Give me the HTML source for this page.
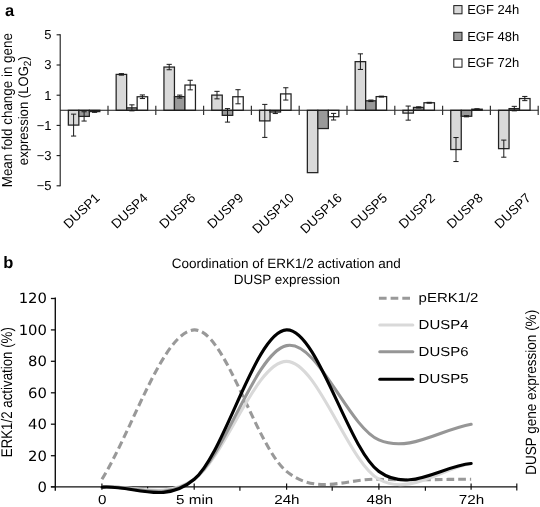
<!DOCTYPE html>
<html lang="en">
<head>
<meta charset="utf-8">
<title>DUSP expression figure</title>
<style>
html,body{margin:0;padding:0;background:#fff;}
body{width:540px;height:507px;overflow:hidden;}
svg{display:block;}
</style>
</head>
<body>
<svg width="540" height="507" viewBox="0 0 540 507">
<rect width="540" height="507" fill="#ffffff"/>
<g opacity="0.999" text-rendering="geometricPrecision">
<text x="5.0" y="15.9" text-rendering="geometricPrecision" font-family="'Liberation Sans', Arial, Helvetica, sans-serif" font-size="16.5" font-weight="bold" fill="#000">a</text>
<text transform="translate(11.6,110.2) rotate(-90) scale(1,1.08)" text-anchor="middle" font-family="'Liberation Sans', Arial, Helvetica, sans-serif" font-size="13.4" fill="#000">Mean fold change in gene</text>
<text transform="translate(28.0,110.7) rotate(-90) scale(1,1.05)" text-anchor="middle" font-family="'Liberation Sans', Arial, Helvetica, sans-serif" font-size="13.1" fill="#000">expression (LOG<tspan font-size="10" dy="2.6">2</tspan><tspan dy="-2.6">)</tspan></text>
<path d="M60.2 34.3 V186.3" stroke="#1a1a1a" stroke-width="1.1" fill="none"/>
<path d="M56.6 34.8 H60.2" stroke="#1a1a1a" stroke-width="1.1"/>
<text x="51.6" y="39.2" text-anchor="end" font-family="'Liberation Sans', Arial, Helvetica, sans-serif" font-size="13" fill="#000">5</text>
<path d="M56.6 65.0 H60.2" stroke="#1a1a1a" stroke-width="1.1"/>
<text x="51.6" y="69.4" text-anchor="end" font-family="'Liberation Sans', Arial, Helvetica, sans-serif" font-size="13" fill="#000">3</text>
<path d="M56.6 95.2 H60.2" stroke="#1a1a1a" stroke-width="1.1"/>
<text x="51.6" y="99.6" text-anchor="end" font-family="'Liberation Sans', Arial, Helvetica, sans-serif" font-size="13" fill="#000">1</text>
<path d="M56.6 125.4 H60.2" stroke="#1a1a1a" stroke-width="1.1"/>
<text x="51.6" y="129.8" text-anchor="end" font-family="'Liberation Sans', Arial, Helvetica, sans-serif" font-size="13" fill="#000">−1</text>
<path d="M56.6 155.6 H60.2" stroke="#1a1a1a" stroke-width="1.1"/>
<text x="51.6" y="160.0" text-anchor="end" font-family="'Liberation Sans', Arial, Helvetica, sans-serif" font-size="13" fill="#000">−3</text>
<path d="M56.6 185.8 H60.2" stroke="#1a1a1a" stroke-width="1.1"/>
<text x="51.6" y="190.2" text-anchor="end" font-family="'Liberation Sans', Arial, Helvetica, sans-serif" font-size="13" fill="#000">−5</text>
<rect x="68.35" y="110.30" width="10.5" height="14.80" fill="#d9d9d9" stroke="#222" stroke-width="1.25"/>
<rect x="78.85" y="110.30" width="10.5" height="6.10" fill="#999999" stroke="#222" stroke-width="1.25"/>
<rect x="89.35" y="110.30" width="10.5" height="1.30" fill="#ffffff" stroke="#222" stroke-width="1.25"/>
<path d="M73.60 114.15 V136.05 M71.00 114.15 H76.20 M71.00 136.05 H76.20" stroke="#1a1a1a" stroke-width="1" fill="none"/>
<path d="M84.10 111.75 V121.05 M81.50 111.75 H86.70 M81.50 121.05 H86.70" stroke="#1a1a1a" stroke-width="1" fill="none"/>
<path d="M94.60 110.85 V112.35 M92.00 110.85 H97.20 M92.00 112.35 H97.20" stroke="#1a1a1a" stroke-width="1" fill="none"/>
<rect x="116.15" y="74.40" width="10.5" height="35.90" fill="#d9d9d9" stroke="#222" stroke-width="1.25"/>
<rect x="126.65" y="107.85" width="10.5" height="2.45" fill="#999999" stroke="#222" stroke-width="1.25"/>
<rect x="137.15" y="96.75" width="10.5" height="13.55" fill="#ffffff" stroke="#222" stroke-width="1.25"/>
<path d="M121.40 73.65 V75.15 M118.80 73.65 H124.00 M118.80 75.15 H124.00" stroke="#1a1a1a" stroke-width="1" fill="none"/>
<path d="M131.90 104.85 V110.85 M129.30 104.85 H134.50 M129.30 110.85 H134.50" stroke="#1a1a1a" stroke-width="1" fill="none"/>
<path d="M142.40 94.95 V98.55 M139.80 94.95 H145.00 M139.80 98.55 H145.00" stroke="#1a1a1a" stroke-width="1" fill="none"/>
<rect x="163.95" y="67.05" width="10.5" height="43.25" fill="#d9d9d9" stroke="#222" stroke-width="1.25"/>
<rect x="174.45" y="96.60" width="10.5" height="13.70" fill="#999999" stroke="#222" stroke-width="1.25"/>
<rect x="184.95" y="85.05" width="10.5" height="25.25" fill="#ffffff" stroke="#222" stroke-width="1.25"/>
<path d="M169.20 64.35 V69.75 M166.60 64.35 H171.80 M166.60 69.75 H171.80" stroke="#1a1a1a" stroke-width="1" fill="none"/>
<path d="M179.70 95.10 V98.10 M177.10 95.10 H182.30 M177.10 98.10 H182.30" stroke="#1a1a1a" stroke-width="1" fill="none"/>
<path d="M190.20 80.25 V89.85 M187.60 80.25 H192.80 M187.60 89.85 H192.80" stroke="#1a1a1a" stroke-width="1" fill="none"/>
<rect x="211.75" y="95.10" width="10.5" height="15.20" fill="#d9d9d9" stroke="#222" stroke-width="1.25"/>
<rect x="222.25" y="110.30" width="10.5" height="5.05" fill="#999999" stroke="#222" stroke-width="1.25"/>
<rect x="232.75" y="96.75" width="10.5" height="13.55" fill="#ffffff" stroke="#222" stroke-width="1.25"/>
<path d="M217.00 91.35 V98.85 M214.40 91.35 H219.60 M214.40 98.85 H219.60" stroke="#1a1a1a" stroke-width="1" fill="none"/>
<path d="M227.50 108.60 V122.10 M224.90 108.60 H230.10 M224.90 122.10 H230.10" stroke="#1a1a1a" stroke-width="1" fill="none"/>
<path d="M238.00 89.70 V103.80 M235.40 89.70 H240.60 M235.40 103.80 H240.60" stroke="#1a1a1a" stroke-width="1" fill="none"/>
<rect x="259.55" y="110.30" width="10.5" height="10.60" fill="#d9d9d9" stroke="#222" stroke-width="1.25"/>
<rect x="270.05" y="110.30" width="10.5" height="1.75" fill="#999999" stroke="#222" stroke-width="1.25"/>
<rect x="280.55" y="93.90" width="10.5" height="16.40" fill="#ffffff" stroke="#222" stroke-width="1.25"/>
<path d="M264.80 104.40 V137.40 M262.20 104.40 H267.40 M262.20 137.40 H267.40" stroke="#1a1a1a" stroke-width="1" fill="none"/>
<path d="M275.30 110.55 V113.55 M272.70 110.55 H277.90 M272.70 113.55 H277.90" stroke="#1a1a1a" stroke-width="1" fill="none"/>
<path d="M285.80 87.75 V100.05 M283.20 87.75 H288.40 M283.20 100.05 H288.40" stroke="#1a1a1a" stroke-width="1" fill="none"/>
<rect x="307.35" y="110.30" width="10.5" height="62.35" fill="#d9d9d9" stroke="#222" stroke-width="1.25"/>
<rect x="317.85" y="110.30" width="10.5" height="18.25" fill="#999999" stroke="#222" stroke-width="1.25"/>
<rect x="328.35" y="110.30" width="10.5" height="6.40" fill="#ffffff" stroke="#222" stroke-width="1.25"/>
<path d="M333.60 113.40 V120.00 M331.00 113.40 H336.20 M331.00 120.00 H336.20" stroke="#1a1a1a" stroke-width="1" fill="none"/>
<rect x="355.15" y="61.65" width="10.5" height="48.65" fill="#d9d9d9" stroke="#222" stroke-width="1.25"/>
<rect x="365.65" y="100.80" width="10.5" height="9.50" fill="#999999" stroke="#222" stroke-width="1.25"/>
<rect x="376.15" y="96.60" width="10.5" height="13.70" fill="#ffffff" stroke="#222" stroke-width="1.25"/>
<path d="M360.40 53.85 V69.45 M357.80 53.85 H363.00 M357.80 69.45 H363.00" stroke="#1a1a1a" stroke-width="1" fill="none"/>
<path d="M370.90 100.05 V101.55 M368.30 100.05 H373.50 M368.30 101.55 H373.50" stroke="#1a1a1a" stroke-width="1" fill="none"/>
<path d="M381.40 96.15 V97.05 M378.80 96.15 H384.00 M378.80 97.05 H384.00" stroke="#1a1a1a" stroke-width="1" fill="none"/>
<rect x="402.95" y="110.30" width="10.5" height="2.80" fill="#d9d9d9" stroke="#222" stroke-width="1.25"/>
<rect x="413.45" y="107.40" width="10.5" height="2.90" fill="#999999" stroke="#222" stroke-width="1.25"/>
<rect x="423.95" y="102.75" width="10.5" height="7.55" fill="#ffffff" stroke="#222" stroke-width="1.25"/>
<path d="M408.20 106.05 V120.15 M405.60 106.05 H410.80 M405.60 120.15 H410.80" stroke="#1a1a1a" stroke-width="1" fill="none"/>
<path d="M418.70 106.80 V108.00 M416.10 106.80 H421.30 M416.10 108.00 H421.30" stroke="#1a1a1a" stroke-width="1" fill="none"/>
<path d="M429.20 102.30 V103.20 M426.60 102.30 H431.80 M426.60 103.20 H431.80" stroke="#1a1a1a" stroke-width="1" fill="none"/>
<rect x="450.75" y="110.30" width="10.5" height="39.25" fill="#d9d9d9" stroke="#222" stroke-width="1.25"/>
<rect x="461.25" y="110.30" width="10.5" height="5.95" fill="#999999" stroke="#222" stroke-width="1.25"/>
<rect x="471.75" y="109.20" width="10.5" height="1.10" fill="#ffffff" stroke="#222" stroke-width="1.25"/>
<path d="M456.00 137.55 V161.55 M453.40 137.55 H458.60 M453.40 161.55 H458.60" stroke="#1a1a1a" stroke-width="1" fill="none"/>
<path d="M466.50 115.65 V116.85 M463.90 115.65 H469.10 M463.90 116.85 H469.10" stroke="#1a1a1a" stroke-width="1" fill="none"/>
<path d="M477.00 108.75 V109.65 M474.40 108.75 H479.60 M474.40 109.65 H479.60" stroke="#1a1a1a" stroke-width="1" fill="none"/>
<rect x="498.55" y="110.30" width="10.5" height="38.35" fill="#d9d9d9" stroke="#222" stroke-width="1.25"/>
<rect x="509.05" y="108.60" width="10.5" height="1.70" fill="#999999" stroke="#222" stroke-width="1.25"/>
<rect x="519.55" y="98.55" width="10.5" height="11.75" fill="#ffffff" stroke="#222" stroke-width="1.25"/>
<path d="M503.80 140.10 V157.20 M501.20 140.10 H506.40 M501.20 157.20 H506.40" stroke="#1a1a1a" stroke-width="1" fill="none"/>
<path d="M514.30 106.35 V110.85 M511.70 106.35 H516.90 M511.70 110.85 H516.90" stroke="#1a1a1a" stroke-width="1" fill="none"/>
<path d="M524.80 96.45 V100.65 M522.20 96.45 H527.40 M522.20 100.65 H527.40" stroke="#1a1a1a" stroke-width="1" fill="none"/>
<path d="M60.2 110.3 H538.4" stroke="#1a1a1a" stroke-width="1.1"/>
<path d="M108.00 105.7 V114.89999999999999" stroke="#333" stroke-width="1.2"/>
<path d="M155.80 105.7 V114.89999999999999" stroke="#333" stroke-width="1.2"/>
<path d="M203.60 105.7 V114.89999999999999" stroke="#333" stroke-width="1.2"/>
<path d="M251.40 105.7 V114.89999999999999" stroke="#333" stroke-width="1.2"/>
<path d="M299.20 105.7 V114.89999999999999" stroke="#333" stroke-width="1.2"/>
<path d="M347.00 105.7 V114.89999999999999" stroke="#333" stroke-width="1.2"/>
<path d="M394.80 105.7 V114.89999999999999" stroke="#333" stroke-width="1.2"/>
<path d="M442.60 105.7 V114.89999999999999" stroke="#333" stroke-width="1.2"/>
<path d="M490.40 105.7 V114.89999999999999" stroke="#333" stroke-width="1.2"/>
<path d="M538.20 105.7 V114.89999999999999" stroke="#333" stroke-width="1.2"/>
<text transform="translate(100.60,198.9) rotate(-43.5)" text-anchor="end" font-family="'Liberation Sans', Arial, Helvetica, sans-serif" font-size="13.2" fill="#000">DUSP1</text>
<text transform="translate(148.50,198.9) rotate(-43.5)" text-anchor="end" font-family="'Liberation Sans', Arial, Helvetica, sans-serif" font-size="13.2" fill="#000">DUSP4</text>
<text transform="translate(196.40,198.9) rotate(-43.5)" text-anchor="end" font-family="'Liberation Sans', Arial, Helvetica, sans-serif" font-size="13.2" fill="#000">DUSP6</text>
<text transform="translate(244.30,198.9) rotate(-43.5)" text-anchor="end" font-family="'Liberation Sans', Arial, Helvetica, sans-serif" font-size="13.2" fill="#000">DUSP9</text>
<text transform="translate(294.83,198.9) rotate(-43.5)" text-anchor="end" font-family="'Liberation Sans', Arial, Helvetica, sans-serif" font-size="13.2" fill="#000">DUSP10</text>
<text transform="translate(342.73,198.9) rotate(-43.5)" text-anchor="end" font-family="'Liberation Sans', Arial, Helvetica, sans-serif" font-size="13.2" fill="#000">DUSP16</text>
<text transform="translate(388.00,198.9) rotate(-43.5)" text-anchor="end" font-family="'Liberation Sans', Arial, Helvetica, sans-serif" font-size="13.2" fill="#000">DUSP5</text>
<text transform="translate(435.90,198.9) rotate(-43.5)" text-anchor="end" font-family="'Liberation Sans', Arial, Helvetica, sans-serif" font-size="13.2" fill="#000">DUSP2</text>
<text transform="translate(483.80,198.9) rotate(-43.5)" text-anchor="end" font-family="'Liberation Sans', Arial, Helvetica, sans-serif" font-size="13.2" fill="#000">DUSP8</text>
<text transform="translate(531.70,198.9) rotate(-43.5)" text-anchor="end" font-family="'Liberation Sans', Arial, Helvetica, sans-serif" font-size="13.2" fill="#000">DUSP7</text>
<rect x="453.8" y="5.6" width="8.2" height="8.2" fill="#d9d9d9" stroke="#1a1a1a" stroke-width="1"/>
<text x="467.2" y="14.0" font-family="'Liberation Sans', Arial, Helvetica, sans-serif" font-size="13" fill="#000">EGF 24h</text>
<rect x="453.8" y="32.3" width="8.2" height="8.2" fill="#999999" stroke="#1a1a1a" stroke-width="1"/>
<text x="467.2" y="40.7" font-family="'Liberation Sans', Arial, Helvetica, sans-serif" font-size="13" fill="#000">EGF 48h</text>
<rect x="453.8" y="59.0" width="8.2" height="8.2" fill="#ffffff" stroke="#1a1a1a" stroke-width="1"/>
<text x="467.2" y="67.4" font-family="'Liberation Sans', Arial, Helvetica, sans-serif" font-size="13" fill="#000">EGF 72h</text>
<text x="3.2" y="267.7" text-rendering="geometricPrecision" font-family="'Liberation Sans', Arial, Helvetica, sans-serif" font-size="16.5" font-weight="bold" fill="#000">b</text>
<text x="286.3" y="268.0" text-anchor="middle" font-family="'Liberation Sans', Arial, Helvetica, sans-serif" font-size="13.5" fill="#000">Coordination of ERK1/2 activation and</text>
<text x="286.8" y="283.9" text-anchor="middle" font-family="'Liberation Sans', Arial, Helvetica, sans-serif" font-size="13.5" fill="#000">DUSP expression</text>
<path d="M55.3 297.6 V490.8" stroke="#111" stroke-width="1.4" fill="none"/>
<path d="M50.9 486.8 H517" stroke="#111" stroke-width="1.3" fill="none"/>
<path d="M50.9 486.8 H55.3" stroke="#111" stroke-width="1.3"/>
<text x="47" y="491.7" text-anchor="end" font-family="'DejaVu Sans', Verdana, sans-serif" font-size="14.2" fill="#000" transform="translate(47,0) scale(1.045,1) translate(-47,0)">0</text>
<path d="M50.9 455.7 H55.3" stroke="#111" stroke-width="1.3"/>
<text x="47" y="460.6" text-anchor="end" font-family="'DejaVu Sans', Verdana, sans-serif" font-size="14.2" fill="#000" transform="translate(47,0) scale(1.045,1) translate(-47,0)">20</text>
<path d="M50.9 424.2 H55.3" stroke="#111" stroke-width="1.3"/>
<text x="47" y="429.1" text-anchor="end" font-family="'DejaVu Sans', Verdana, sans-serif" font-size="14.2" fill="#000" transform="translate(47,0) scale(1.045,1) translate(-47,0)">40</text>
<path d="M50.9 392.8 H55.3" stroke="#111" stroke-width="1.3"/>
<text x="47" y="397.7" text-anchor="end" font-family="'DejaVu Sans', Verdana, sans-serif" font-size="14.2" fill="#000" transform="translate(47,0) scale(1.045,1) translate(-47,0)">60</text>
<path d="M50.9 361.3 H55.3" stroke="#111" stroke-width="1.3"/>
<text x="47" y="366.2" text-anchor="end" font-family="'DejaVu Sans', Verdana, sans-serif" font-size="14.2" fill="#000" transform="translate(47,0) scale(1.045,1) translate(-47,0)">80</text>
<path d="M50.9 329.9 H55.3" stroke="#111" stroke-width="1.3"/>
<text x="47" y="334.8" text-anchor="end" font-family="'DejaVu Sans', Verdana, sans-serif" font-size="14.2" fill="#000" transform="translate(47,0) scale(1.045,1) translate(-47,0)">100</text>
<path d="M50.9 298.5 H55.3" stroke="#111" stroke-width="1.3"/>
<text x="47" y="303.4" text-anchor="end" font-family="'DejaVu Sans', Verdana, sans-serif" font-size="14.2" fill="#000" transform="translate(47,0) scale(1.045,1) translate(-47,0)">120</text>
<path d="M101.9 483.6 V489.8" stroke="#111" stroke-width="1.2"/>
<path d="M194.2 483.6 V489.8" stroke="#111" stroke-width="1.2"/>
<path d="M286.6 483.6 V489.8" stroke="#111" stroke-width="1.2"/>
<path d="M378.9 483.6 V489.8" stroke="#111" stroke-width="1.2"/>
<path d="M471.1 483.6 V489.8" stroke="#111" stroke-width="1.2"/>
<path d="M147.6 486.8 V490.8" stroke="#111" stroke-width="1.2"/>
<path d="M239.9 486.8 V490.8" stroke="#111" stroke-width="1.2"/>
<path d="M332.2 486.8 V490.8" stroke="#111" stroke-width="1.2"/>
<path d="M425.4 486.8 V490.8" stroke="#111" stroke-width="1.2"/>
<path d="M516.8 483.6 V490.40000000000003" stroke="#111" stroke-width="1.2"/>
<text x="102.3" y="504.1" text-anchor="middle" font-family="'Liberation Sans', Arial, Helvetica, sans-serif" font-size="13" fill="#000" transform="translate(102.3,0) scale(1.17,1) translate(-102.3,0)">0</text>
<text x="194.7" y="504.1" text-anchor="middle" font-family="'Liberation Sans', Arial, Helvetica, sans-serif" font-size="13" fill="#000" transform="translate(194.7,0) scale(1.17,1) translate(-194.7,0)">5 min</text>
<text x="286.9" y="504.1" text-anchor="middle" font-family="'Liberation Sans', Arial, Helvetica, sans-serif" font-size="13" fill="#000" transform="translate(286.9,0) scale(1.17,1) translate(-286.9,0)">24h</text>
<text x="379.2" y="504.1" text-anchor="middle" font-family="'Liberation Sans', Arial, Helvetica, sans-serif" font-size="13" fill="#000" transform="translate(379.2,0) scale(1.17,1) translate(-379.2,0)">48h</text>
<text x="471.5" y="504.1" text-anchor="middle" font-family="'Liberation Sans', Arial, Helvetica, sans-serif" font-size="13" fill="#000" transform="translate(471.5,0) scale(1.17,1) translate(-471.5,0)">72h</text>
<path d="M101.95 479.24 C132.72 429.46 163.48 331.21 194.25 329.90 C225.02 328.59 255.78 446.49 286.55 471.38 C317.32 496.27 348.08 477.93 378.85 479.24 C409.62 480.55 440.38 479.24 471.15 479.24" stroke="#999999" stroke-width="3.1" fill="none" stroke-dasharray="7.7 4.0"/>
<path d="M101.95 487.10 C132.72 484.48 163.48 500.20 194.25 479.24 C225.02 458.28 255.78 361.34 286.55 361.34 C317.32 361.34 348.08 462.21 378.85 479.24 C409.62 496.27 440.38 468.76 471.15 463.52" stroke="#d9d9d9" stroke-width="3.1" fill="none" stroke-linecap="round"/>
<path d="M101.95 487.10 C132.72 484.48 163.48 502.82 194.25 479.24 C225.02 455.66 255.78 352.17 286.55 345.62 C317.32 339.07 348.08 426.84 378.85 439.94 C409.62 453.04 440.38 429.46 471.15 424.22" stroke="#969696" stroke-width="3.1" fill="none" stroke-linecap="round"/>
<path d="M101.95 487.10 C132.72 484.48 163.48 505.44 194.25 479.24 C225.02 453.04 255.78 331.21 286.55 329.90 C317.32 328.59 348.08 449.11 378.85 471.38 C409.62 493.65 440.38 466.14 471.15 463.52" stroke="#000000" stroke-width="3.1" fill="none" stroke-linecap="round"/>
<path d="M378.9 298.2 H414" stroke="#999999" stroke-width="3.1" stroke-dasharray="7.7 4.0"/>
<text x="418.6" y="302.1" font-family="'Liberation Sans', Arial, Helvetica, sans-serif" font-size="13" fill="#000" transform="translate(418.6,0) scale(1.15,1) translate(-418.6,0)">pERK1/2</text>
<path d="M379.8 325.0 H412.8" stroke="#d9d9d9" stroke-width="3.1" stroke-linecap="round"/>
<text x="418.6" y="328.9" font-family="'Liberation Sans', Arial, Helvetica, sans-serif" font-size="13" fill="#000" transform="translate(418.6,0) scale(1.15,1) translate(-418.6,0)">DUSP4</text>
<path d="M379.8 351.8 H412.8" stroke="#969696" stroke-width="3.1" stroke-linecap="round"/>
<text x="418.6" y="355.7" font-family="'Liberation Sans', Arial, Helvetica, sans-serif" font-size="13" fill="#000" transform="translate(418.6,0) scale(1.15,1) translate(-418.6,0)">DUSP6</text>
<path d="M379.8 379.2 H412.8" stroke="#000000" stroke-width="3.1" stroke-linecap="round"/>
<text x="418.6" y="383.1" font-family="'Liberation Sans', Arial, Helvetica, sans-serif" font-size="13" fill="#000" transform="translate(418.6,0) scale(1.15,1) translate(-418.6,0)">DUSP5</text>
<text transform="translate(12.0,392.2) rotate(-90) scale(1,1.16)" text-anchor="middle" font-family="'Liberation Sans', Arial, Helvetica, sans-serif" font-size="13.3" fill="#000">ERK1/2 activation (%)</text>
<text transform="translate(535.9,392.3) rotate(-90) scale(1,1.10)" text-anchor="middle" font-family="'Liberation Sans', Arial, Helvetica, sans-serif" font-size="13.5" fill="#000">DUSP gene expression (%)</text>
</g>
</svg>
</body>
</html>
